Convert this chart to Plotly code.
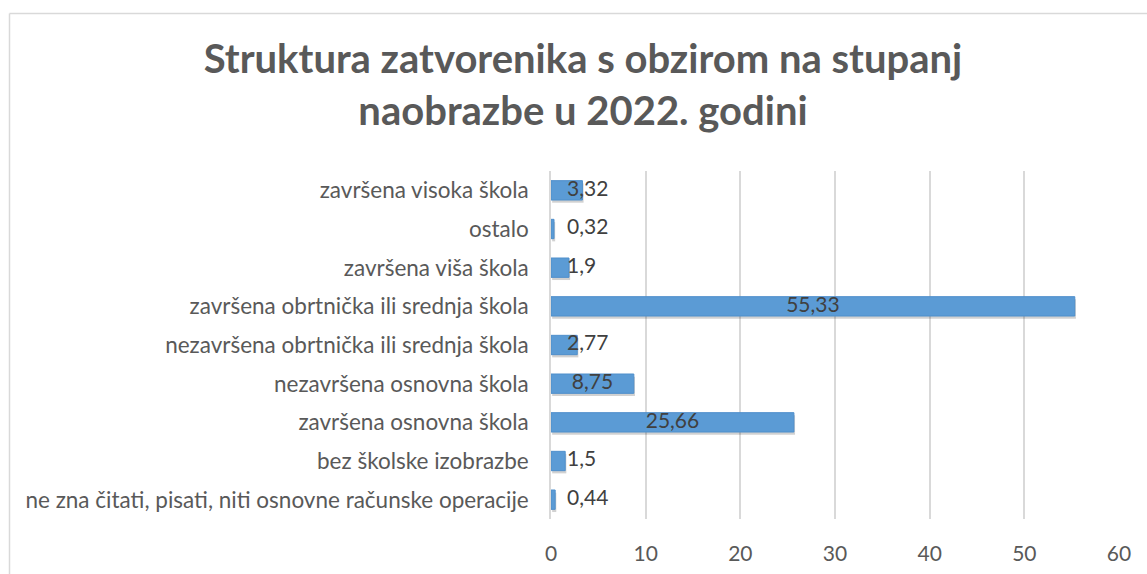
import plotly.graph_objects as go

categories = [
    "ne zna čitati, pisati, niti osnovne računske operacije",
    "bez školske izobrazbe",
    "završena osnovna škola",
    "nezavršena osnovna škola",
    "nezavršena obrtnička ili srednja škola",
    "završena obrtnička ili srednja škola",
    "završena viša škola",
    "ostalo",
    "završena visoka škola",
]
values = [0.44, 1.5, 25.66, 8.75, 2.77, 55.33, 1.9, 0.32, 3.32]
tick_vals = [0, 10, 20, 30, 40, 50, 60]
title = "Struktura zatvorenika s obzirom na stupanj<br>naobrazbe u 2022. godini"

labels = [f"{v:g}".replace(".", ",") for v in values]

W, H = 1147, 574
ML, MR, MT, MB = 551, 28, 171, 55
PW, PH = W - ML - MR, H - MT - MB
XMAX = 60

FONT = "Lato"
LABEL_SIZE = 21
CHAR_W = 0.52 * LABEL_SIZE      # approx. glyph width for label placement
MIN_LEFT_PX = 19                # labels never start closer to the axis than this

# Excel "center" labels: centered in the bar, but pushed right if they would cross the axis
lab_x, lab_pos = [], []
for v, t in zip(values, labels):
    center_px = v / 2 * PW / XMAX
    half_w = len(t) * CHAR_W / 2
    if center_px - half_w < MIN_LEFT_PX:
        lab_x.append((MIN_LEFT_PX - 3) * XMAX / PW)
        lab_pos.append("middle right")
    else:
        lab_x.append(v / 2)
        lab_pos.append("middle center")

BAR_W = 0.5

fig = go.Figure()
# soft shadow
fig.add_trace(go.Bar(
    x=values, y=categories, orientation="h", base=0.12,
    width=BAR_W, offset=-BAR_W / 2 - 0.07,
    marker=dict(color="rgba(0,0,0,0.18)", line=dict(width=0)),
    hoverinfo="skip",
))
fig.add_trace(go.Bar(
    x=values, y=categories, orientation="h",
    width=BAR_W, offset=-BAR_W / 2,
    marker=dict(color="#5B9BD5", line=dict(color="#4F8FCB", width=1)),
    hoverinfo="x+y",
))
fig.add_trace(go.Scatter(
    x=lab_x, y=categories, mode="text",
    text=labels, textposition=lab_pos,
    textfont=dict(family=FONT, size=LABEL_SIZE, color="#404040"),
    hoverinfo="skip", showlegend=False,
))

def px_to_paper_x(px):
    return (px - ML) / PW

def px_to_paper_y(py):
    return 1 - (py - MT) / PH

# chart frame (light gray border, cropped at right/bottom)
fig.add_shape(type="line", xref="paper", yref="paper",
              x0=px_to_paper_x(9.5), x1=px_to_paper_x(1147), y0=px_to_paper_y(13.5), y1=px_to_paper_y(13.5),
              line=dict(color="#D9D9D9", width=1.5))
fig.add_shape(type="line", xref="paper", yref="paper",
              x0=px_to_paper_x(9.5), x1=px_to_paper_x(9.5), y0=px_to_paper_y(13.5), y1=px_to_paper_y(574),
              line=dict(color="#D9D9D9", width=1.5))

fig.update_layout(
    width=W, height=H,
    margin=dict(l=ML, r=MR, t=MT, b=MB, pad=0),
    paper_bgcolor="white", plot_bgcolor="white",
    showlegend=False,
    barmode="overlay",
    title=dict(text=f"<b>{title}</b>", xref="container", x=583 / W, xanchor="center",
               yref="container", y=1 - 73 / H, yanchor="top",
               font=dict(family=FONT, size=40, color="#595959")),
    xaxis=dict(range=[0, XMAX], tickvals=tick_vals, showgrid=True, gridcolor="#D9D9D9",
               gridwidth=1.5, zeroline=False, showline=False, automargin=False,
               tickfont=dict(family=FONT, size=21, color="#595959"), ticks="", ticklen=0,
               ticklabelstandoff=20),
    yaxis=dict(categoryorder="array", categoryarray=categories, showgrid=False,
               showline=True, linecolor="#D9D9D9", linewidth=1.5, ticks="", automargin=False,
               ticklabelstandoff=16, range=[-0.5, len(categories) - 0.5],
               tickfont=dict(family=FONT, size=22.5, color="#595959")),
    font=dict(family=FONT),
)

fig.write_html("out.html",
               config={"displayModeBar": False},
               post_script="document.body.style.margin='0';document.body.style.overflow='hidden';")
